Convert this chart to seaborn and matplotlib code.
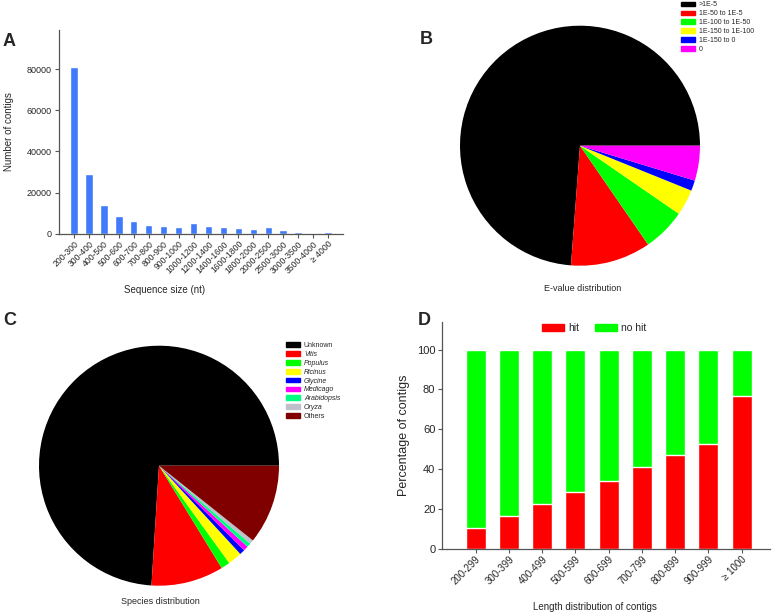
import matplotlib
matplotlib.use("Agg")
import matplotlib.pyplot as plt
import seaborn as sns
import pandas as pd
from matplotlib.patches import Patch

# ---------------- data ----------------
size_bins = ["200-300", "300-400", "400-500", "500-600", "600-700", "700-800",
             "800-900", "900-1000", "1000-1200", "1200-1400", "1400-1600",
             "1600-1800", "1800-2000", "2000-2500", "2500-3000", "3000-3500",
             "3500-4000", "\u2265 4000"]
contig_counts = [81200, 29100, 14100, 8500, 6000, 4400, 3600, 3100, 5000, 3950,
                 3200, 2650, 2150, 3350, 1800, 950, 500, 650]

evalue_labels = [">1E-5", "1E-50 to 1E-5", "1E-100 to 1E-50", "1E-150 to 1E-100",
                 "1E-150 to 0", "0"]
evalue_pct = [73.8, 10.8, 5.8, 3.5, 1.4, 4.7]

species_labels = ["Unknown", "Vitis", "Populus", "Ricinus", "Glycine", "Medicago",
                  "Arabidopsis", "Oryza", "Others"]
species_pct = [74.0, 9.75, 1.2, 1.9, 0.7, 0.65, 0.55, 0.55, 10.7]

length_bins = ["200-299", "300-399", "400-499", "500-599", "600-699", "700-799",
               "800-899", "900-999", "\u2265 1000"]
hit_pct = [10.3, 16.4, 22.6, 28.3, 33.9, 40.8, 47.3, 52.7, 76.9]
total_pct = [100, 100, 100, 100, 100, 100, 100, 100, 100]

# ---------------- style ----------------
sns.set_style("white")
plt.rcParams["font.family"] = ["Liberation Sans", "DejaVu Sans"]

W, H = 778, 615
fig = plt.figure(figsize=(W / 100, H / 100), dpi=100)


def ax_px(x0, y0, x1, y1):
    return fig.add_axes([x0 / W, 1 - y1 / H, (x1 - x0) / W, (y1 - y0) / H])


spine_col = "#555555"

# ---------------- Panel A ----------------
axA = ax_px(59, 30, 343, 233.7)
dfA = pd.DataFrame({"bin": size_bins, "count": contig_counts})
sns.barplot(data=dfA, x="bin", y="count", color="#3F7BFA", saturation=1,
            width=0.5, ax=axA)
axA.set_xlim(-1, 18)
axA.set_ylim(0, 99000)
axA.set_yticks([0, 20000, 40000, 60000, 80000])
axA.tick_params(axis="y", labelsize=6.5, length=3, color=spine_col, left=True, pad=2)
axA.tick_params(axis="x", labelsize=6.2, length=3, color=spine_col, bottom=True, pad=1)
plt.setp(axA.get_xticklabels(), rotation=45, ha="right", rotation_mode="anchor")
sns.despine(ax=axA)
for s in ("left", "bottom"):
    axA.spines[s].set_color(spine_col)
    axA.spines[s].set_linewidth(0.9)
axA.set_xlabel("Sequence size (nt)", fontsize=7)
axA.set_ylabel("Number of contigs", fontsize=7)
axA.xaxis.set_label_coords((165 - 59) / 284, -(285 - 233.7) / 203.7)
axA.yaxis.set_label_coords(-(59 - 14) / 284, 0.5)

# ---------------- Panel B ----------------
colsB = ["#000000", "#FF0000", "#00FF00", "#FFFF00", "#0000FF", "#FF00FF"]
axB = ax_px(580 - 120, 145.7 - 120, 580 + 120, 145.7 + 120)
axB.pie(evalue_pct, colors=colsB, startangle=0, counterclock=True,
        wedgeprops=dict(linewidth=0))
axB.set_xlim(-1, 1)
axB.set_ylim(-1, 1)
fig.text(583 / W, 1 - 288.5 / H, "E-value distribution", fontsize=6.5,
         ha="center", va="center")
leg_kw = dict(frameon=False, fontsize=5.0, handlelength=2.15, handleheight=0.68,
              handletextpad=0.5, labelspacing=0.27, borderpad=0.0, borderaxespad=0)
fig.legend(handles=[Patch(color=c, label=l) for c, l in zip(colsB, evalue_labels)],
           loc="upper left", bbox_to_anchor=(680.5 / W, 1 - 1.5 / H), **leg_kw)

# ---------------- Panel C ----------------
colsC = ["#000000", "#FF0000", "#00FF00", "#FFFF00", "#0000FF", "#FF00FF",
         "#00FF80", "#C0C0CC", "#800000"]
axC = ax_px(159 - 120, 465.7 - 120, 159 + 120, 465.7 + 120)
axC.pie(species_pct, colors=colsC, startangle=0, counterclock=True,
        wedgeprops=dict(linewidth=0))
axC.set_xlim(-1, 1)
axC.set_ylim(-1, 1)
fig.text(160 / W, 1 - 601 / H, "Species distribution", fontsize=6.5,
         ha="center", va="center")
legC = fig.legend(handles=[Patch(color=c, label=l) for c, l in zip(colsC, species_labels)],
                  loc="upper left", bbox_to_anchor=(285.5 / W, 1 - 342 / H), **leg_kw)
for t in legC.get_texts():
    if t.get_text() not in ("Unknown", "Others"):
        t.set_style("italic")

# ---------------- Panel D ----------------
axD = ax_px(442.3, 321.7, 770, 548.7)
dfD = pd.DataFrame({"bin": length_bins, "total": total_pct, "hit": hit_pct})
sns.barplot(data=dfD, x="bin", y="total", color="#00FF00", saturation=1,
            width=0.6, ax=axD)
sns.barplot(data=dfD, x="bin", y="hit", color="#FF0000", saturation=1,
            width=0.6, ax=axD)
axD.set_xlim(-1.0, 8.85)
axD.set_ylim(0, 114)
axD.set_yticks([0, 20, 40, 60, 80, 100])
axD.tick_params(axis="y", labelsize=8, length=3, color=spine_col, left=True, pad=2)
axD.tick_params(axis="x", labelsize=7, length=3, color=spine_col, bottom=True, pad=1)
plt.setp(axD.get_xticklabels(), rotation=45, ha="right", rotation_mode="anchor")
sns.despine(ax=axD)
for s in ("left", "bottom"):
    axD.spines[s].set_color(spine_col)
    axD.spines[s].set_linewidth(0.9)
axD.set_xlabel("Length distribution of contigs", fontsize=7)
axD.set_ylabel("Percentage of contigs", fontsize=9)
axD.xaxis.set_label_coords((595 - 442.3) / 327.7, -(602 - 548.7) / 227)
axD.yaxis.set_label_coords(-(442.3 - 410) / 327.7, 0.5)
axD.legend(handles=[Patch(color="#FF0000", label="hit"),
                    Patch(color="#00FF00", label="no hit")],
           loc="upper left", bbox_to_anchor=((540.5 - 442.3) / 327.7, 1.0), ncol=2,
           frameon=False, fontsize=7.5, handlelength=2.1, handleheight=0.75,
           handletextpad=0.4, columnspacing=1.5, borderpad=0.15, borderaxespad=0)

# ---------------- panel letters ----------------
for letter, x, y in [("A", 9, 41), ("B", 426, 40), ("C", 10, 320), ("D", 424, 320)]:
    fig.text(x / W, 1 - y / H, letter, fontsize=13, fontweight="bold",
             ha="center", va="center")

fig.savefig("out.png", dpi=100)
